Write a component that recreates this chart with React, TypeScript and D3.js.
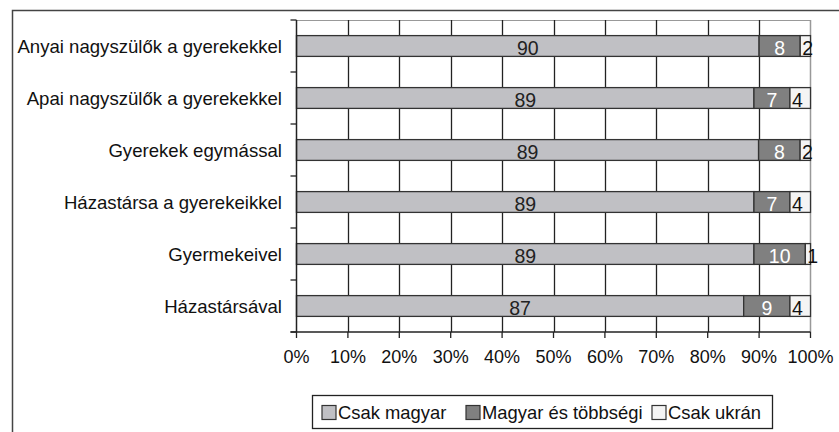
import React from 'react'
import * as d3 from 'd3'

const categories = [
  'Anyai nagyszülők a gyerekekkel',
  'Apai nagyszülők a gyerekekkel',
  'Gyerekek egymással',
  'Házastársa a gyerekeikkel',
  'Gyermekeivel',
  'Házastársával',
]
const csakMagyar = [90, 89, 89, 89, 89, 87]
const magyarEsTobbsegi = [8, 7, 8, 7, 10, 9]
const csakUkran = [2, 4, 2, 4, 1, 4]
const seriesNames = ['Csak magyar', 'Magyar és többségi', 'Csak ukrán']
const xTicks = [0, 0.1, 0.2, 0.3, 0.4, 0.5, 0.6, 0.7, 0.8, 0.9, 1]

const fills = ['#c0c0c4', '#808080', '#f4f4f4']
const labelColors = ['#222', '#fff', '#111']

const W = 839
const H = 432
const font = 'Liberation Sans, Arial, sans-serif'

export default function App() {
  const left = 296.5
  const right = 810.5
  const top = 20
  const bottom = 332

  const x = d3.scaleLinear().domain([0, 1]).range([left, right])
  const y = d3.scaleBand().domain(categories).range([top, bottom]).paddingInner(0.6).paddingOuter(0.3)
  const band = (bottom - top) / categories.length

  const rows = categories.map((c, i) => {
    const vals = [csakMagyar[i], magyarEsTobbsegi[i], csakUkran[i]]
    const total = d3.sum(vals)
    let acc = 0
    return vals.map((v, k) => {
      const x0 = acc / total
      acc += v
      return { cat: c, k, v, x0, x1: acc / total }
    })
  })

  // legend square x positions
  const legendX = [322, 466, 652]

  return (
    <svg width={W} height={H} style={{ position: 'absolute', left: 0, top: 0, background: '#fff' }}>
      {/* outer frame */}
      <path d={`M12.5,${H} V10.5 H${W}`} fill="none" stroke="#444" strokeWidth={1.5} />

      {/* top / right border of plot */}
      <line x1={left} x2={right} y1={top + 0.5} y2={top + 0.5} stroke="#999" />
      <line x1={right} x2={right} y1={top} y2={bottom} stroke="#999" strokeWidth={1.5} />

      {/* vertical grid */}
      {xTicks.slice(1, -1).map(t => (
        <line key={t} x1={Math.round(x(t)) + 0.5} x2={Math.round(x(t)) + 0.5} y1={top} y2={bottom} stroke="#222" strokeWidth={1.3} />
      ))}

      {/* bars */}
      {rows.map((segs, i) =>
        segs.map(s => (
          <rect
            key={`${i}-${s.k}`}
            x={x(s.x0)}
            width={x(s.x1) - x(s.x0)}
            y={y(s.cat)!}
            height={y.bandwidth()}
            fill={fills[s.k]}
            stroke="#333"
            strokeWidth={1.3}
          />
        ))
      )}

      {/* bar labels */}
      {rows.map((segs, i) =>
        segs.map(s => (
          <text
            key={`t${i}-${s.k}`}
            x={s.k === 2 ? x(s.x0) + 2 : (x(s.x0) + x(s.x1)) / 2}
            y={y(s.cat)! + y.bandwidth() / 2 + 8.5}
            textAnchor={s.k === 2 ? 'start' : 'middle'}
            fontFamily={font}
            fontSize={19.5}
            fill={labelColors[s.k]}
          >
            {s.v}
          </text>
        ))
      )}

      {/* y axis */}
      <line x1={left} x2={left} y1={top} y2={bottom} stroke="#222" strokeWidth={1.5} />
      {d3.range(categories.length + 1).map(i => (
        <line key={i} x1={left - 6} x2={left} y1={top + i * band} y2={top + i * band} stroke="#222" strokeWidth={1.3} />
      ))}
      {categories.map(c => (
        <text key={c} x={282} y={y(c)! + y.bandwidth() / 2 + 6.5} textAnchor="end" fontFamily={font} fontSize={18.6} fill="#111">
          {c}
        </text>
      ))}

      {/* x axis */}
      <line x1={left - 6} x2={right} y1={bottom} y2={bottom} stroke="#222" strokeWidth={1.5} />
      {xTicks.map(t => (
        <g key={t}>
          <line x1={x(t)} x2={x(t)} y1={bottom} y2={bottom + 6} stroke="#222" strokeWidth={1.3} />
          <text x={x(t)} y={bottom + 30.5} textAnchor="middle" fontFamily={font} fontSize={18} fill="#111">
            {d3.format('.0%')(t)}
          </text>
        </g>
      ))}

      {/* legend */}
      <rect x={312.5} y={395.5} width={460} height={33} fill="#fff" stroke="#222" strokeWidth={1.3} />
      {seriesNames.map((n, k) => (
        <g key={n}>
          <rect x={legendX[k]} y={405.5} width={14} height={14} fill={fills[k]} stroke="#333" strokeWidth={1.2} />
          <text x={legendX[k] + 16} y={419} fontFamily={font} fontSize={18.4} fill="#111">
            {n}
          </text>
        </g>
      ))}
    </svg>
  )
}
